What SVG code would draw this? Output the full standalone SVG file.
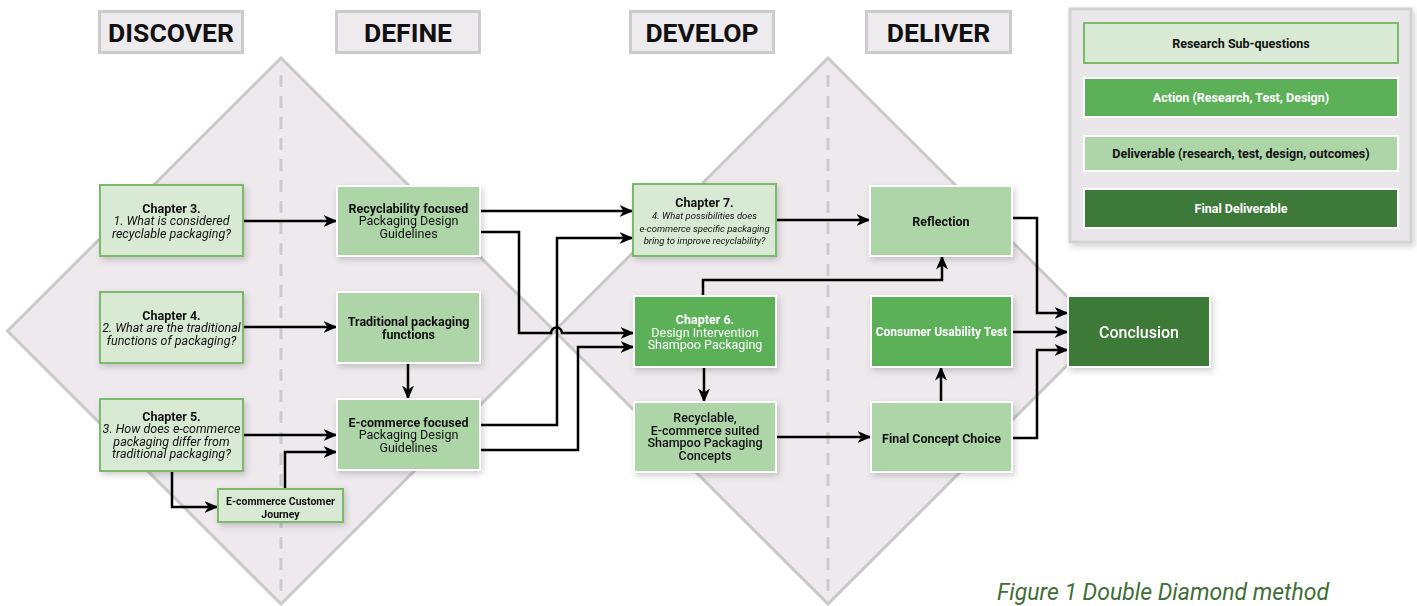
<svg xmlns="http://www.w3.org/2000/svg" width="1417" height="606" viewBox="0 0 1417 606">
<defs>
<style>
text{font-family:Roboto,"Liberation Sans",sans-serif;text-anchor:middle;}
.hdr{fill:#EEEBEE;stroke:#CCCCCC;stroke-width:3;}
.hdrt{font-size:26.5px;font-weight:700;fill:#111;}
.dia{fill:#EDE9ED;stroke:#C9C9C9;stroke-width:3;}
.dash{stroke:#CCCCCC;stroke-width:3;stroke-dasharray:12 9;fill:none;}
.q{fill:#D8E9D4;stroke:#7CB96B;stroke-width:2;}
.dl{fill:#ADD5A8;stroke:#FFFFFF;stroke-width:2;}
.ac{fill:#5CB158;stroke:#FFFFFF;stroke-width:2;}
.fin{fill:#3D7A39;stroke:#FFFFFF;stroke-width:2;}
.b{font-weight:700;}
.i{font-style:italic;}
.t{font-size:12.5px;fill:#111;}
.w{fill:#FFFFFF;}
.con{fill:none;stroke:#000;stroke-width:2.5;stroke-linejoin:miter;}
.arr{marker-end:url(#ah);}
</style>
<marker id="ah" viewBox="0 0 14 12" refX="13.5" refY="6" markerWidth="14" markerHeight="12" markerUnits="userSpaceOnUse" orient="auto">
<path d="M0,0 L14,6 L0,12 L4,6 z" fill="#000"/>
</marker>
<filter id="sh" x="-20%" y="-20%" width="150%" height="150%">
<feDropShadow dx="2" dy="3" stdDeviation="3" flood-color="#000" flood-opacity="0.18"/>
</filter>
</defs>
<rect x="0" y="0" width="1417" height="606" fill="#FFFFFF"/>

<g id="diamonds">
<polygon class="dia" points="281,58 554.5,331 281,604 7.5,331"/>
<polygon class="dia" points="828,58 1101.5,331 828,604 554.5,331"/>
<line class="dash" x1="281" y1="75" x2="281" y2="600"/>
<line class="dash" x1="828" y1="75" x2="828" y2="600"/>
</g>

<g id="headers">
<g id="h-discover"><rect class="hdr" x="99.5" y="11.5" width="143" height="41"/><text class="hdrt" x="171" y="42">DISCOVER</text></g>
<g id="h-define"><rect class="hdr" x="336.5" y="11.5" width="143" height="41"/><text class="hdrt" x="408" y="42">DEFINE</text></g>
<g id="h-develop"><rect class="hdr" x="630.5" y="11.5" width="143" height="41"/><text class="hdrt" x="702" y="42">DEVELOP</text></g>
<g id="h-deliver"><rect class="hdr" x="866.5" y="11.5" width="144" height="41"/><text class="hdrt" x="938.5" y="42">DELIVER</text></g>
</g>

<g id="legend">
<rect x="1070" y="9" width="341" height="233" fill="#EAE7EA" stroke="#D2D2D2" stroke-width="3" filter="url(#sh)"/>
<g id="lg-q"><rect class="q" x="1084" y="23" width="314" height="40"/><text class="t b" x="1241" y="47.5">Research Sub-questions</text></g>
<g id="lg-a"><rect class="ac" x="1084" y="78" width="314" height="39"/><text class="t b w" x="1241" y="102">Action (Research, Test, Design)</text></g>
<g id="lg-d"><rect class="dl" x="1084" y="136" width="314" height="35"/><text class="t b" x="1241" y="158">Deliverable (research, test, design, outcomes)</text></g>
<g id="lg-f"><rect class="fin" x="1084" y="189" width="314" height="39"/><text class="t b w" x="1241" y="213">Final Deliverable</text></g>
</g>

<g id="connectors">
<path class="con arr" d="M243,221 H337"/>
<path class="con arr" d="M243,327 H337"/>
<path class="con arr" d="M408,363 V399"/>
<path class="con arr" d="M243,435 H337"/>
<path class="con arr" d="M172,471 V507 H218"/>
<path class="con arr" d="M285,489 V452 H337"/>
<path class="con arr" d="M480,211 H633"/>
<path class="con arr" d="M480,232 H519 V333 H551 A5.5,5.5 0 0 1 562,333 H634"/>
<path class="con arr" d="M480,425 H557 V238 H633"/>
<path class="con arr" d="M480,450 H578 V347 H634"/>
<path class="con arr" d="M776,220 H870"/>
<path class="con arr" d="M703,296 V280 H942 V256"/>
<path class="con arr" d="M704,367 V402"/>
<path class="con arr" d="M776,437 H871"/>
<path class="con arr" d="M941,402 V367"/>
<path class="con arr" d="M1012,218 H1037 V313 H1068"/>
<path class="con arr" d="M1012,332 H1068"/>
<path class="con arr" d="M1012,438 H1037 V350 H1068"/>
</g>

<g id="n-ch3" filter="url(#sh)"><rect class="q" x="100" y="185" width="143" height="71"/>
<text class="t" font-size="12" x="171.5" y="212.5"><tspan class="b">Chapter 3.</tspan><tspan class="i" x="171.5" y="225">1. What is considered</tspan><tspan class="i" x="171.5" y="237.5">recyclable packaging?</tspan></text></g>

<g id="n-ch4" filter="url(#sh)"><rect class="q" x="100" y="292" width="143" height="71"/>
<text class="t" x="171.5" y="319.5"><tspan class="b">Chapter 4.</tspan><tspan class="i" x="171.5" y="332">2. What are the traditional</tspan><tspan class="i" x="171.5" y="345">functions of packaging?</tspan></text></g>

<g id="n-ch5" filter="url(#sh)"><rect class="q" x="100" y="399" width="143" height="72"/>
<text class="t" x="171.5" y="420.5"><tspan class="b">Chapter 5.</tspan><tspan class="i" x="171.5" y="433">3. How does e-commerce</tspan><tspan class="i" x="171.5" y="445.5">packaging differ from</tspan><tspan class="i" x="171.5" y="458">traditional packaging?</tspan></text></g>

<g id="n-journey" filter="url(#sh)"><rect class="q" x="218" y="489" width="125" height="33" stroke-width="1.5"/>
<text class="b" font-size="10.5" fill="#111" x="280.5" y="505">E-commerce Customer<tspan x="280.5" y="517.5">Journey</tspan></text></g>

<g id="n-recyc" filter="url(#sh)"><rect class="dl" x="337" y="186" width="143" height="70"/>
<text class="t" x="408.5" y="212.5"><tspan class="b">Recyclability focused</tspan><tspan x="408.5" y="225">Packaging Design</tspan><tspan x="408.5" y="237.5">Guidelines</tspan></text></g>

<g id="n-trad" filter="url(#sh)"><rect class="dl" x="337" y="292" width="143" height="71"/>
<text class="t b" x="408.5" y="325.5">Traditional packaging<tspan x="408.5" y="338.5">functions</tspan></text></g>

<g id="n-ecom" filter="url(#sh)"><rect class="dl" x="337" y="399" width="143" height="71"/>
<text class="t" x="408.5" y="426.5"><tspan class="b">E-commerce focused</tspan><tspan x="408.5" y="439">Packaging Design</tspan><tspan x="408.5" y="451.5">Guidelines</tspan></text></g>

<g id="n-ch7" filter="url(#sh)"><rect class="q" x="633" y="184" width="143" height="72"/>
<text class="t b" x="704.5" y="206.5">Chapter 7.</text>
<text class="i" font-size="9.5" fill="#111" x="704.5" y="218.5">4. What possibilities does<tspan x="704.5" y="231.5">e-commerce specific packaging</tspan><tspan x="704.5" y="243.5">bring to improve recyclability?</tspan></text></g>

<g id="n-ch6" filter="url(#sh)"><rect class="ac" x="634" y="296" width="142" height="71"/>
<text class="t w" x="705" y="324"><tspan class="b">Chapter 6.</tspan><tspan x="705" y="336.5">Design Intervention</tspan><tspan x="705" y="349">Shampoo Packaging</tspan></text></g>

<g id="n-concepts" filter="url(#sh)"><rect class="dl" x="634" y="402" width="142" height="70"/>
<text class="t" font-weight="500" x="705" y="422">Recyclable,<tspan x="705" y="434.5">E-commerce suited</tspan><tspan x="705" y="447">Shampoo Packaging</tspan><tspan x="705" y="459.5">Concepts</tspan></text></g>

<g id="n-reflection" filter="url(#sh)"><rect class="dl" x="870" y="186" width="142" height="70"/>
<text class="t b" font-size="13" x="941" y="225.5">Reflection</text></g>

<g id="n-usability" filter="url(#sh)"><rect class="ac" x="871" y="296" width="141" height="71"/>
<text class="b w" font-size="12" x="941.5" y="335.5">Consumer Usability Test</text></g>

<g id="n-final" filter="url(#sh)"><rect class="dl" x="871" y="402" width="141" height="70"/>
<text class="t b" x="941.5" y="442.5">Final Concept Choice</text></g>

<g id="n-conclusion" filter="url(#sh)"><rect class="fin" x="1068" y="296" width="142" height="71"/>
<text class="w" font-size="16" font-weight="500" x="1139" y="337.5">Conclusion</text></g>

<text id="caption" x="1329" y="600" font-size="23" font-style="italic" fill="#3F6E36" style="text-anchor:end">Figure 1 Double Diamond method</text>
</svg>
